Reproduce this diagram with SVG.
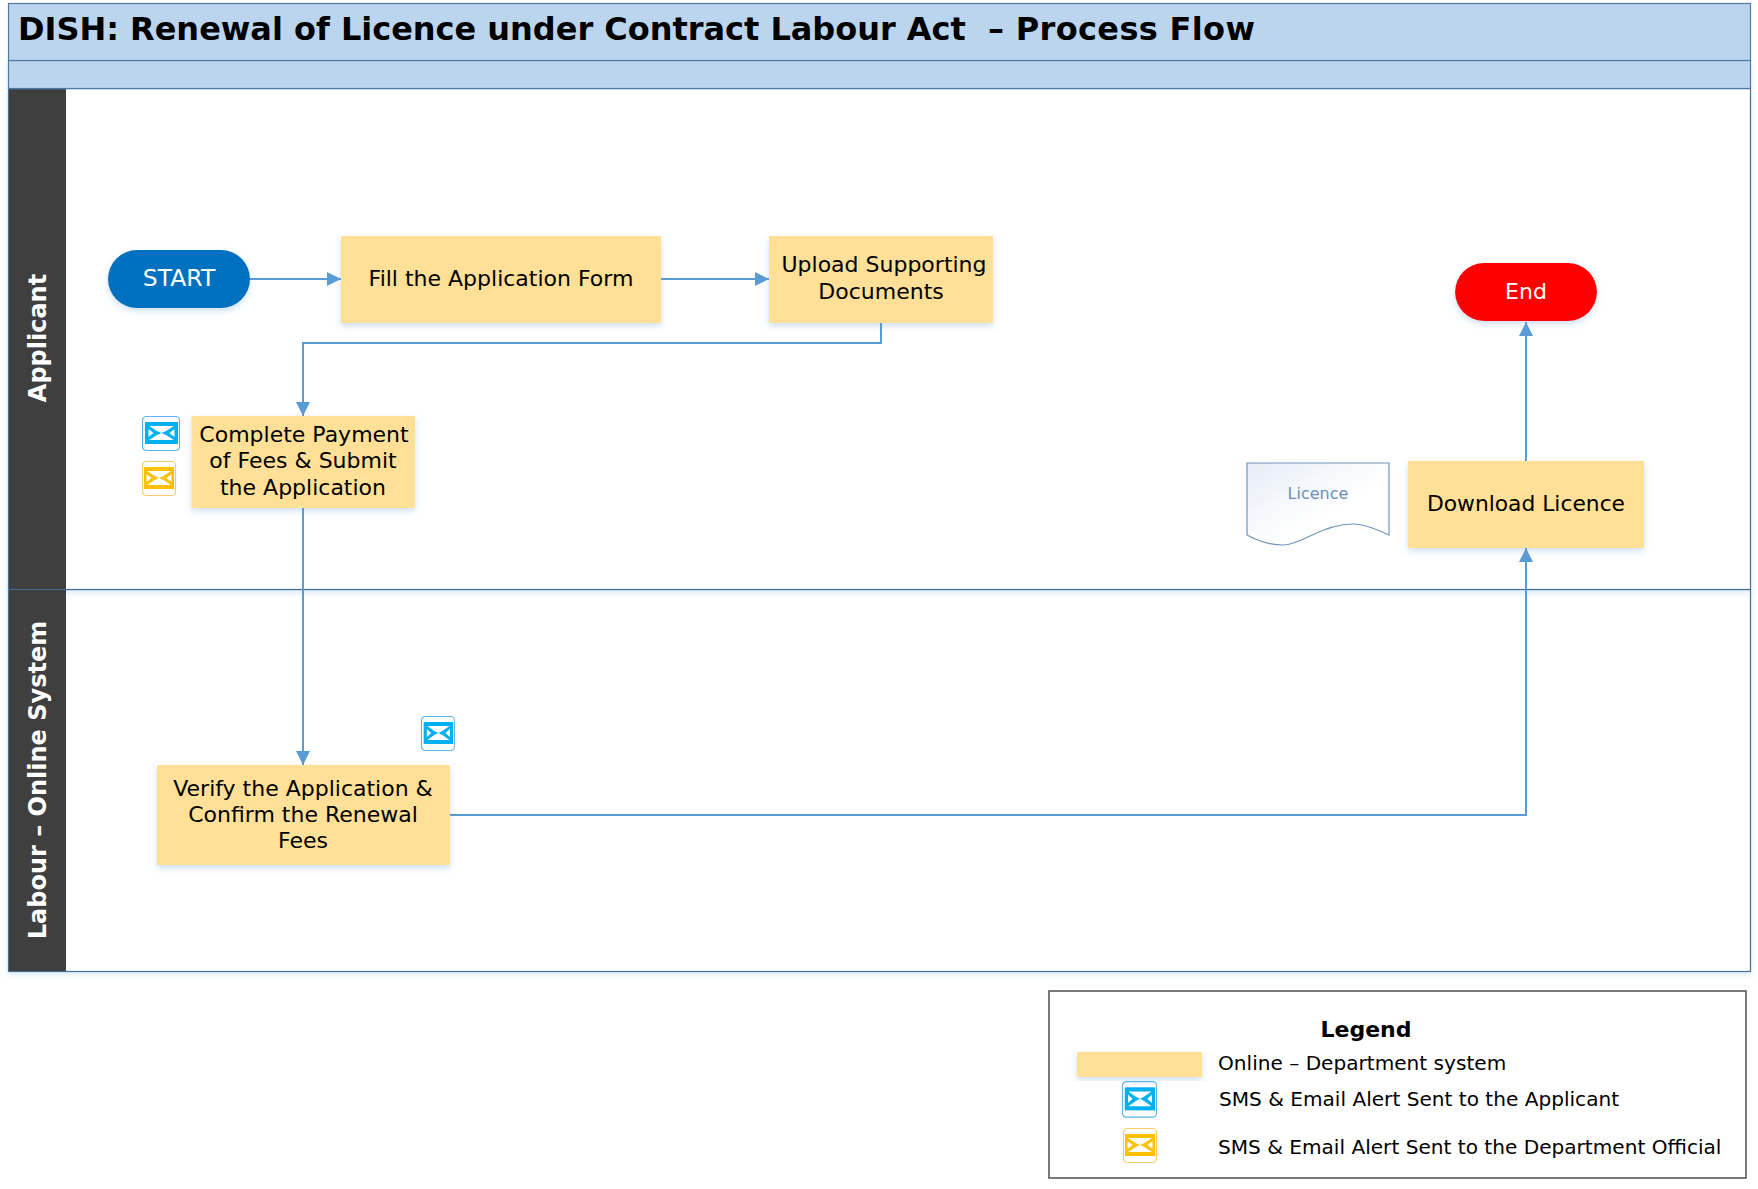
<svg xmlns="http://www.w3.org/2000/svg" width="1758" height="1189" viewBox="0 0 1758 1189">
<style>
text{font-family:"DejaVu Sans","Verdana",sans-serif;fill:#000;font-size:22px;text-anchor:middle}
.task{fill:#ffe096;filter:url(#sh)}
.bar{fill:#bcd5ee;stroke:#4f7aa5;stroke-width:1.2}
.lane{fill:#fff;stroke:#41719c;stroke-width:1.2;filter:url(#sh2)}
.hd{fill:#3f3f3f}
.hdt{fill:#fff;font-weight:bold;font-size:24px}
.c{fill:none;stroke:#5b9bd5;stroke-width:2}
.lg{text-anchor:start;font-size:20.1px}
</style>
<defs>
<filter id="sh" x="-10%" y="-10%" width="120%" height="125%"><feDropShadow dx="0" dy="3" stdDeviation="3" flood-color="#5b9bd5" flood-opacity="0.3"/></filter>
<filter id="sh2" x="-1%" y="-2%" width="102%" height="104%"><feDropShadow dx="0" dy="3" stdDeviation="3" flood-color="#5b9bd5" flood-opacity="0.2"/></filter>
<marker id="a" markerUnits="userSpaceOnUse" markerWidth="14" markerHeight="14" refX="14" refY="7" orient="auto"><path d="M0 0L14 7L0 14Z" fill="#5b9bd5"/></marker>
<linearGradient id="dg" x1="0" y1="0" x2="1" y2="1"><stop offset="0" stop-color="#e6edf7"/><stop offset="0.6" stop-color="#fff"/></linearGradient>
<g id="mail-b"><rect x="0.5" y="0.5" width="37" height="34" rx="4" fill="#fff" stroke="#5bb4e5" stroke-width="1.2"/><rect x="3" y="6" width="33" height="22" fill="#00b0f0"/><path d="M7 10H32L24 15L19.500 17L15 15ZM7 24H32L24 19L19.500 17L15 19ZM6.500 13L11.500 17L6.500 21ZM32.500 13L27.500 17L32.500 21Z" fill="#fff"/></g>
<g id="mail-y"><rect x="0.5" y="0.5" width="33" height="34" rx="4" fill="#fff" stroke="#f5cd6a" stroke-width="1.2"/><rect x="2" y="6" width="30" height="22" fill="#ffc000"/><path d="M5 10H29L21.500 15L17 17L12.500 15ZM5 24H29L21.500 19L17 17L12.500 19ZM4.500 13L9.500 17L4.500 21ZM29.500 13L24.500 17L29.500 21Z" fill="#fff"/></g>
</defs>
<rect width="1758" height="1189" fill="#fff"/>
<g id="lanes">
<rect class="lane" x="8.500" y="589.500" width="1742" height="382"/>
<rect class="lane" x="8.500" y="88.500" width="1742" height="501"/>
<rect class="hd" x="9" y="89" width="57" height="500"/>
<rect class="hd" x="9" y="590" width="57" height="381"/>
<text class="hdt" transform="translate(46,338) rotate(-90)">Applicant</text>
<text class="hdt" transform="translate(46,780) rotate(-90)">Labour – Online System</text>
</g>
<g id="header">
<rect class="bar" x="8.500" y="60.500" width="1742" height="28" filter="url(#sh2)"/>
<rect class="bar" x="8.500" y="3.500" width="1742" height="57"/>
<text y="40" style="text-anchor:start;font-weight:bold;font-size:32px;white-space:pre"><tspan x="18" textLength="970">DISH: Renewal of Licence under Contract Labour Act  </tspan><tspan x="988" textLength="267">– Process Flow</tspan></text>
</g>
<g id="connectors">
<path class="c" d="M249 279H341" marker-end="url(#a)"/>
<path class="c" d="M661 279H769" marker-end="url(#a)"/>
<path class="c" d="M881 323V343H303V416" marker-end="url(#a)"/>
<path class="c" d="M303 508V765" marker-end="url(#a)"/>
<path class="c" d="M450 815H1526V548" marker-end="url(#a)"/>
<path class="c" d="M1526 461V322" marker-end="url(#a)"/>
</g>
<g id="start"><rect x="108" y="250" width="142" height="58" rx="29" fill="#0070c0" filter="url(#sh)"/><text x="179" y="286" style="fill:#fff;font-size:23.500px">START</text></g>
<g id="fill-form"><rect class="task" x="341" y="236" width="320" height="87"/><text x="501" y="286">Fill the Application Form</text></g>
<g id="upload"><rect class="task" x="769" y="236" width="224" height="87"/><text x="884" y="272">Upload Supporting</text><text x="881" y="299">Documents</text></g>
<g id="payment"><rect class="task" x="191.500" y="416" width="223.500" height="92"/><text x="304" y="442">Complete Payment</text><text x="303" y="468">of Fees &amp; Submit</text><text x="303" y="495">the Application</text></g>
<g id="mail-applicant-1"><use href="#mail-b" x="142" y="416"/></g>
<g id="mail-official-1"><use href="#mail-y" x="142" y="461"/></g>
<g id="verify"><rect class="task" x="157" y="765" width="293" height="100"/><text x="303" y="796">Verify the Application &amp;</text><text x="303" y="822">Confirm the Renewal</text><text x="303" y="848">Fees</text></g>
<g id="mail-applicant-2"><use href="#mail-b" transform="translate(421,716) scale(.89,1)"/></g>
<g id="licence-doc"><path d="M1247 463H1389V535C1372 527 1362 524 1353 524C1335 524 1320 531 1310 536C1300 541 1290 545 1283 545C1270 545 1258 541 1247 535Z" fill="url(#dg)" stroke="#6f95bd" stroke-width="1.2"/><text x="1318" y="499" style="font-size:16px;fill:#6d8fb5">Licence</text></g>
<g id="download"><rect class="task" x="1408" y="461" width="236" height="87"/><text x="1526" y="511" style="font-size:21.800px">Download Licence</text></g>
<g id="end"><rect x="1455" y="263" width="142" height="58" rx="29" fill="#f00" filter="url(#sh)"/><text x="1526" y="299" style="fill:#fff">End</text></g>
<g id="legend">
<rect x="1049" y="991" width="697" height="187" fill="#fff" stroke="#595959" stroke-width="1.600"/>
<text x="1366" y="1037" style="font-weight:bold">Legend</text>
<rect class="task" x="1077" y="1052" width="125" height="25"/>
<text class="lg" x="1218" y="1070">Online – Department system</text>
<use href="#mail-b" transform="translate(1122,1081) scale(.92,1.05)"/>
<text class="lg" x="1219" y="1106">SMS &amp; Email Alert Sent to the Applicant</text>
<use href="#mail-y" x="1123" y="1128"/>
<text class="lg" x="1218" y="1154">SMS &amp; Email Alert Sent to the Department Official</text>
</g>
</svg>
